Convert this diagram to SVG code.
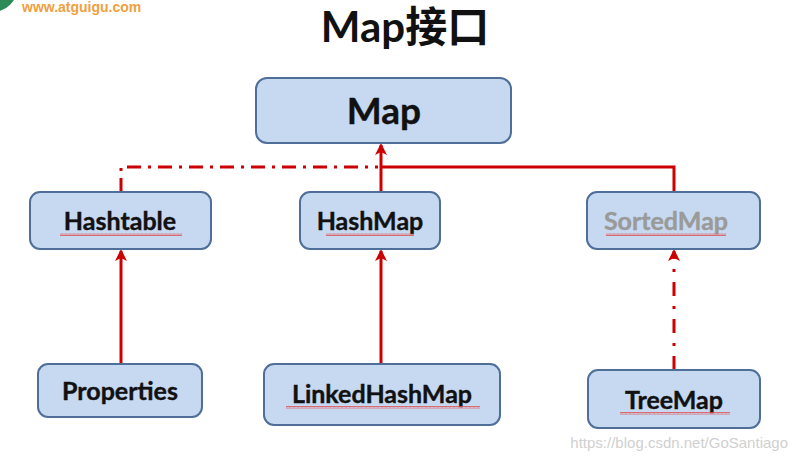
<svg xmlns="http://www.w3.org/2000/svg" width="796" height="460" viewBox="0 0 796 460">
<defs>
<style>
.box{fill:#c6d9f1;stroke:#4f6f99;stroke-width:2}
.lbl{font-family:Lato,"Open Sans","Liberation Sans",sans-serif;font-weight:bold;font-size:25px;fill:#111;text-anchor:middle;stroke:#111;stroke-width:0.4}
.solid{stroke:#cc0000;stroke-width:3;fill:none}
.dash{stroke:#cc0000;stroke-width:3;fill:none;stroke-dasharray:14 7 3 7}
</style>
<marker id="ah" markerWidth="12" markerHeight="12" refX="10" refY="6" orient="auto" markerUnits="userSpaceOnUse" viewBox="0 0 12 12">
<path d="M0,0 L12,6 L0,12 L3,6 Z" fill="#cc0000"/>
</marker>
<pattern id="wv" width="4" height="3" patternUnits="userSpaceOnUse">
<path d="M0,2.5 L1,0.5 L2,2.5 L3,0.5 L4,2.5" stroke="#e05050" stroke-width="0.8" fill="none"/>
</pattern>
</defs>
<rect width="796" height="460" fill="#ffffff"/>
<circle cx="-8" cy="-14" r="26" fill="#2e8b57"/>
<text x="22" y="12" font-family="Liberation Sans,sans-serif" font-weight="bold" font-size="14" fill="#f0a040">www.atguigu.com</text>
<text x="405" y="42" font-family="Lato,'Open Sans','Noto Sans CJK SC',sans-serif" font-weight="bold" font-size="42" fill="#111" text-anchor="middle">Map接口</text>
<g id="connectors">
<path class="dash" d="M121,192 V167 H378"/>
<path class="solid" d="M674,192 V167 H381"/>
<path class="solid" d="M381,192 V145" marker-end="url(#ah)"/>
<path class="solid" d="M121,364 V251" marker-end="url(#ah)"/>
<path class="solid" d="M381,364 V251" marker-end="url(#ah)"/>
<path class="dash" d="M674,370 V251" marker-end="url(#ah)" style="stroke-dasharray:14 10 3 10"/>
</g>
<g id="Map">
<rect class="box" x="256" y="78" width="255" height="65" rx="11"/>
<text class="lbl" x="384" y="124" style="font-size:37px">Map</text>
</g>
<g id="Hashtable">
<rect class="box" x="30" y="192" width="181" height="57" rx="10"/>
<text class="lbl" x="120" y="230">Hashtable</text>
<rect x="60" y="233" width="122" height="3" fill="url(#wv)"/>
</g>
<g id="HashMap">
<rect class="box" x="300" y="192" width="140" height="57" rx="10"/>
<text class="lbl" x="370" y="230">HashMap</text>
<rect x="326" y="233" width="88" height="3" fill="url(#wv)"/>
</g>
<g id="SortedMap">
<rect class="box" x="587" y="192" width="173" height="57" rx="10"/>
<text class="lbl" x="666" y="230" style="fill:#9a9a9a;stroke:#9a9a9a">SortedMap</text>
<rect x="606" y="233" width="120" height="3" fill="url(#wv)"/>
</g>
<g id="Properties">
<rect class="box" x="38" y="364" width="164" height="53" rx="10"/>
<text class="lbl" x="120" y="400">Properties</text>
</g>
<g id="LinkedHashMap">
<rect class="box" x="264" y="364" width="236" height="61" rx="10"/>
<text class="lbl" x="382" y="403">LinkedHashMap</text>
<rect x="286" y="406" width="194" height="3" fill="url(#wv)"/>
</g>
<g id="TreeMap">
<rect class="box" x="588" y="370" width="172" height="58" rx="10"/>
<text class="lbl" x="674" y="409">TreeMap</text>
<rect x="620" y="412" width="110" height="3" fill="url(#wv)"/>
</g>
<text x="788" y="448" font-family="Liberation Sans,Arial,sans-serif" font-size="15" fill="#d0d0d0" text-anchor="end">https://blog.csdn.net/GoSantiago</text>
</svg>
